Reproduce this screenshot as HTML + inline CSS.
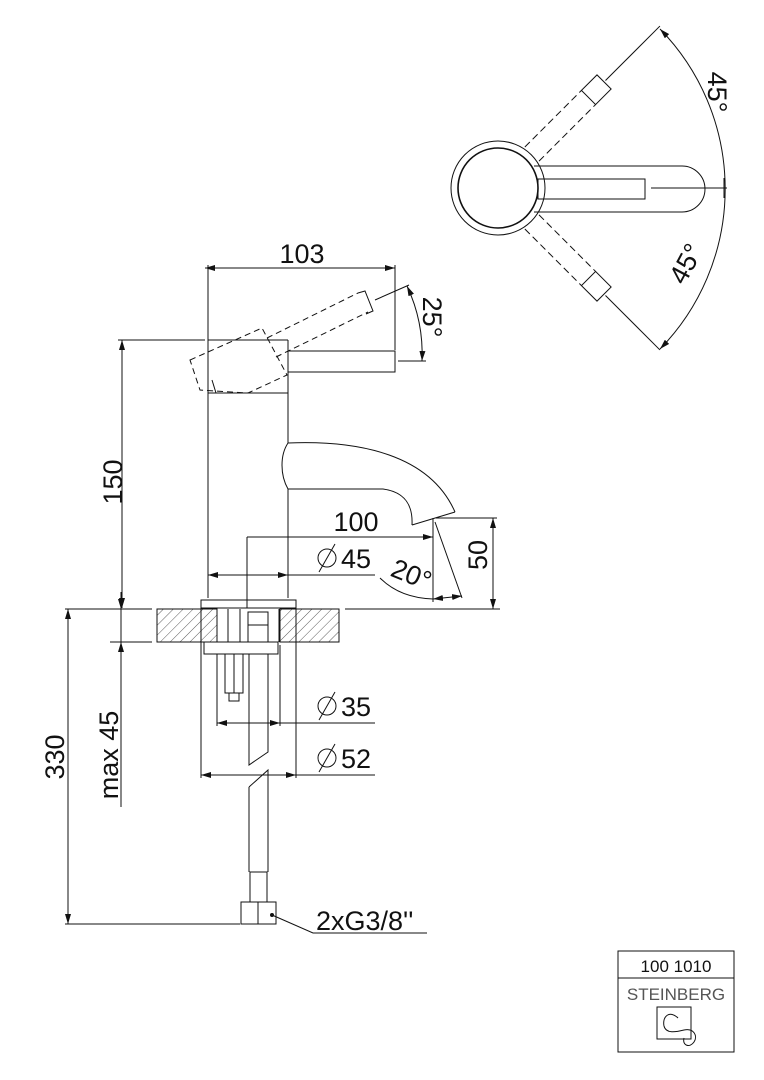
<!DOCTYPE html>
<html><head><meta charset="utf-8"><style>
html,body{margin:0;padding:0;background:#fff}
svg{display:block}
text{font-family:"Liberation Sans",sans-serif;fill:#111}
</style></head><body>
<svg width="764" height="1080" viewBox="0 0 764 1080" xmlns="http://www.w3.org/2000/svg">
<defs>
<marker id="a" viewBox="0 0 10 6" refX="10" refY="3" markerWidth="10" markerHeight="6" markerUnits="userSpaceOnUse" orient="auto-start-reverse"><path d="M0,0 L10,3 L0,6 z" fill="#111"/></marker>
<pattern id="h" patternUnits="userSpaceOnUse" width="7" height="7" patternTransform="rotate(45)"><line x1="0" y1="0" x2="0" y2="7" stroke="#333" stroke-width="0.8"/></pattern>
</defs>
<g fill="none" stroke="#111" stroke-width="1">

<!-- TOP VIEW -->
<circle cx="498" cy="188" r="47" stroke-width="1"/>
<circle cx="498" cy="188" r="40" stroke-width="1.6"/>
<path d="M534,166 H682 A23,23 0 0 1 682,212 H534"/>
<rect x="538" y="179" width="107" height="20"/>
<line x1="651" y1="188" x2="727" y2="188"/>
<path d="M660,29 A229,229 0 0 1 660,349" marker-start="url(#a)" marker-end="url(#a)"/>
<line x1="724" y1="178" x2="724" y2="198"/>
<g transform="translate(498,188) rotate(-45)">
 <line x1="48" y1="-10" x2="128" y2="-10" stroke-dasharray="7,4"/>
 <line x1="48" y1="10" x2="128" y2="10" stroke-dasharray="7,4"/>
 <rect x="128" y="-10" width="22" height="20"/>
 <line x1="152" y1="0" x2="229" y2="0"/>
</g>
<g transform="translate(498,188) rotate(45)">
 <line x1="48" y1="-10" x2="128" y2="-10" stroke-dasharray="7,4"/>
 <line x1="48" y1="10" x2="128" y2="10" stroke-dasharray="7,4"/>
 <rect x="128" y="-10" width="22" height="20"/>
 <line x1="152" y1="0" x2="229" y2="0"/>
</g>

<!-- SIDE VIEW body -->
<line x1="208" y1="265" x2="208" y2="598"/>
<line x1="288" y1="340" x2="288" y2="443"/>
<line x1="288" y1="489" x2="288" y2="598"/>
<line x1="208" y1="340" x2="288" y2="340"/>
<line x1="208" y1="393" x2="288" y2="393"/>
<rect x="288" y="351" width="107" height="21"/>
<line x1="395" y1="265" x2="395" y2="350"/>
<line x1="205" y1="268" x2="395" y2="268" marker-start="url(#a)" marker-end="url(#a)"/>
<g stroke-dasharray="6,4">
<path d="M190,360 L262,328 L287,375 L248,393 L200,390 Z"/>
<line x1="276" y1="357" x2="368" y2="312"/>
<line x1="267" y1="338" x2="358" y2="293"/>
</g>
<path d="M358,293 L365,291 L373,311 L366,314"/>
<line x1="212" y1="380" x2="216" y2="393"/>
<line x1="375" y1="300" x2="409" y2="285"/>
<line x1="398" y1="361" x2="426" y2="361"/>
<path d="M407,286 A160,160 0 0 1 422,361" marker-start="url(#a)" marker-end="url(#a)"/>
<path d="M288,443 C360,440 430,455 455,512"/>
<path d="M288,489 H383 C405,492 413,505 412,525"/>
<path d="M412,525 L455,512"/>
<path d="M288,443 C280,455 280,475 288,489"/>
<line x1="118" y1="340" x2="205" y2="340"/>
<line x1="122" y1="340" x2="122" y2="608" marker-start="url(#a)" marker-end="url(#a)"/>
<line x1="247" y1="537" x2="433" y2="537" marker-end="url(#a)"/>
<line x1="247" y1="537" x2="247" y2="608"/>
<line x1="208" y1="575" x2="288" y2="575" marker-start="url(#a)" marker-end="url(#a)"/>
<line x1="288" y1="575" x2="375" y2="575"/>
<line x1="433" y1="518" x2="433" y2="602"/>
<line x1="435" y1="522" x2="462" y2="598"/>
<path d="M380,578 Q400,598 433,599" />
<path d="M433,599 L462,596" marker-start="url(#a)" marker-end="url(#a)"/>
<line x1="436" y1="518" x2="497" y2="518"/>
<line x1="493" y1="518" x2="493" y2="609" marker-start="url(#a)" marker-end="url(#a)"/>

<rect x="201" y="600" width="95" height="8"/>
<rect x="157" y="609" width="60" height="33" fill="url(#h)"/>
<rect x="280" y="609" width="59" height="33" fill="url(#h)"/>
<line x1="65" y1="609" x2="152" y2="609"/>
<line x1="345" y1="609" x2="500" y2="609"/>
<line x1="110" y1="642" x2="152" y2="642"/>
<line x1="228" y1="609" x2="228" y2="642"/>
<line x1="240" y1="609" x2="240" y2="642"/>
<rect x="248" y="612" width="20" height="30"/>
<line x1="248" y1="625" x2="268" y2="625"/>
<line x1="279" y1="609" x2="279" y2="642"/>
<rect x="204" y="642" width="74" height="12"/>
<rect x="225" y="654" width="18" height="39"/>
<rect x="229" y="693" width="10" height="8"/>
<line x1="234" y1="654" x2="234" y2="693"/>
<path d="M249,654 V765 L268,752 V654"/>
<path d="M249,787 L268,770 V872 M249,787 V872"/>
<rect x="250" y="872" width="17" height="30"/>
<rect x="241" y="902" width="35" height="22"/>
<line x1="258" y1="902" x2="258" y2="924"/>
<line x1="217" y1="654" x2="217" y2="726"/>
<line x1="280" y1="645" x2="280" y2="726"/>
<line x1="217" y1="723" x2="280" y2="723" marker-start="url(#a)" marker-end="url(#a)"/>
<line x1="280" y1="723" x2="375" y2="723"/>
<line x1="201" y1="608" x2="201" y2="778"/>
<line x1="296" y1="608" x2="296" y2="778"/>
<line x1="201" y1="775" x2="296" y2="775" marker-start="url(#a)" marker-end="url(#a)"/>
<line x1="296" y1="775" x2="375" y2="775"/>
<path d="M272,915 L313,933 H427"/>
<circle cx="272" cy="915" r="1.5" fill="#111"/>
<line x1="65" y1="924" x2="240" y2="924"/>
<line x1="68" y1="609" x2="68" y2="924" marker-start="url(#a)" marker-end="url(#a)"/>
<line x1="121" y1="592" x2="121" y2="609" marker-end="url(#a)"/>
<line x1="121" y1="807" x2="121" y2="642" marker-end="url(#a)"/>
<line x1="121" y1="609" x2="121" y2="642"/>

<rect x="618" y="951" width="116" height="101"/>
<line x1="618" y1="978" x2="734" y2="978"/>
<rect x="657" y="1007" width="34" height="32"/>
<path d="M678,1018 C670,1010 662,1016 664,1026 C666,1034 676,1032 684,1030 C694,1028 698,1036 694,1042 C690,1048 682,1046 684,1038"/>
</g>

<g fill="none" stroke="#111" stroke-width="1">
<circle cx="327" cy="558" r="9"/><line x1="319" y1="572" x2="335" y2="544"/>
<circle cx="327" cy="706" r="9"/><line x1="319" y1="720" x2="335" y2="692"/>
<circle cx="327" cy="758" r="9"/><line x1="319" y1="772" x2="335" y2="744"/>
</g>

<g font-size="27">
<text x="302" y="263" text-anchor="middle">103</text>
<text x="356" y="531" text-anchor="middle">100</text>
<text x="341" y="568">45</text>
<text x="341" y="716">35</text>
<text x="341" y="768">52</text>
<text x="316" y="930">2xG3/8''</text>
<text transform="translate(122,482) rotate(-90)" text-anchor="middle">150</text>
<text transform="translate(64,757) rotate(-90)" text-anchor="middle">330</text>
<text transform="translate(118,755) rotate(-90)" text-anchor="middle">max 45</text>
<text transform="translate(487,555) rotate(-90)" text-anchor="middle">50</text>
<text transform="translate(423,317) rotate(90)" text-anchor="middle">25°</text>
<text transform="translate(708,92) rotate(90)" text-anchor="middle">45°</text>
<text transform="translate(694,268) rotate(-62)" text-anchor="middle">45°</text>
<text transform="translate(408,583) rotate(22)" text-anchor="middle">20°</text>
</g>
<text x="676" y="972" font-size="17" text-anchor="middle">100 1010</text>
<text x="676" y="1000" font-size="17" text-anchor="middle" style="fill:#555">STEINBERG</text>
</svg>
</body></html>
